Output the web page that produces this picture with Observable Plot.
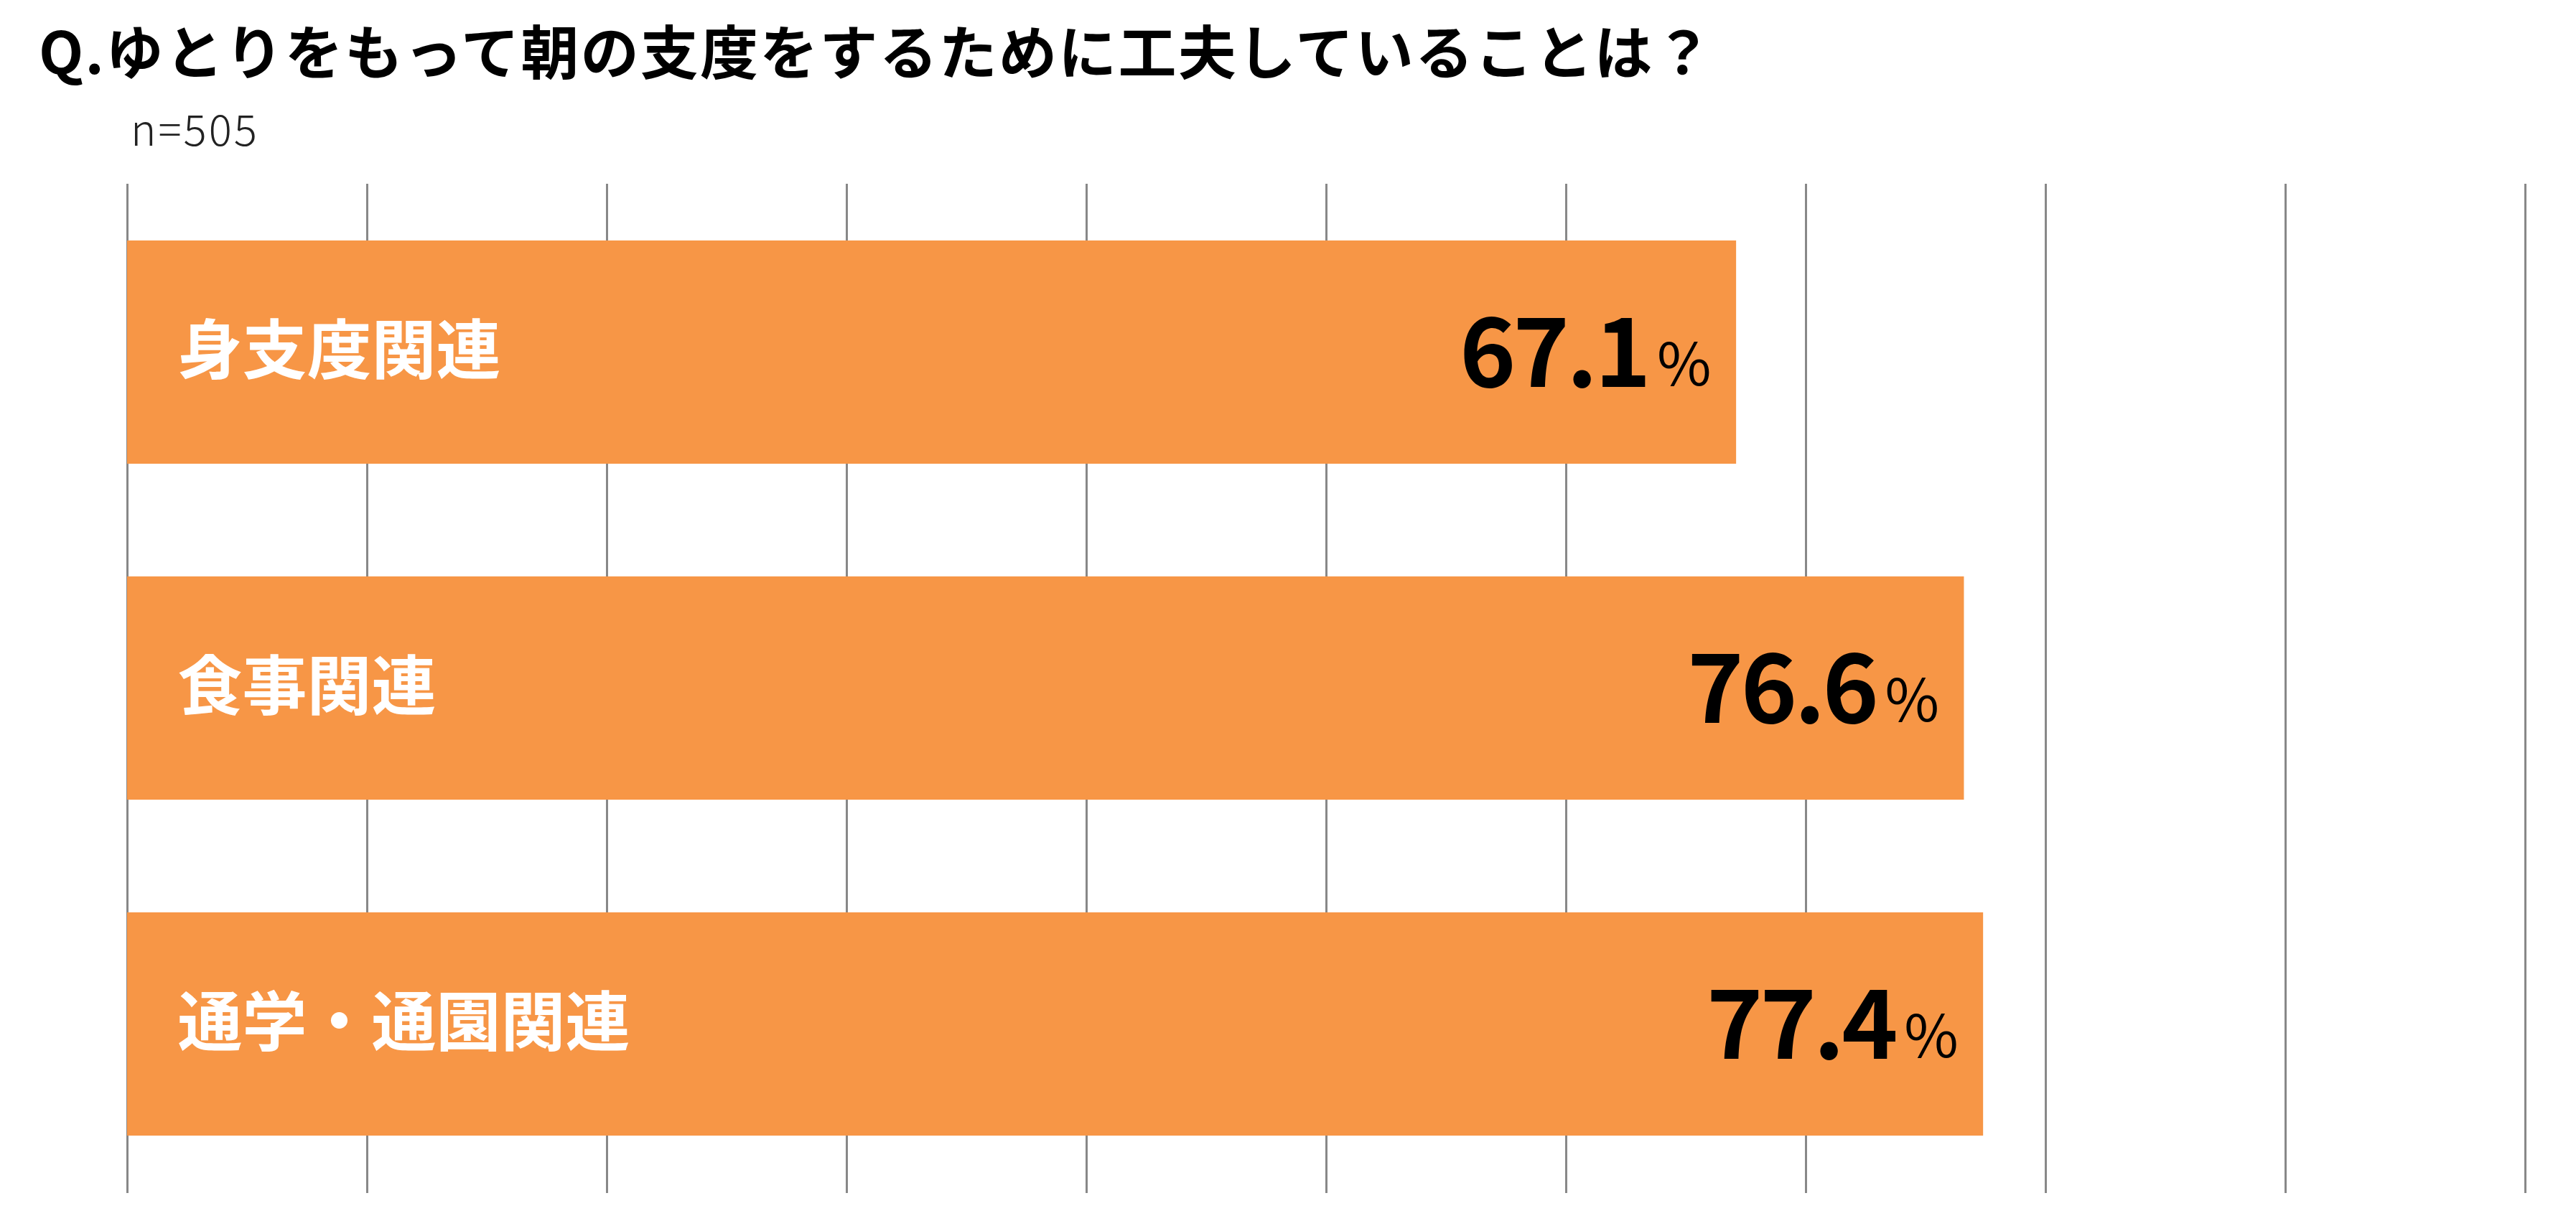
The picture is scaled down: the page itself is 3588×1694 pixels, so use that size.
<!DOCTYPE html>
<html>
<head>
<meta charset="utf-8">
<script src="https://cdn.jsdelivr.net/npm/d3@7"></script>
<script src="https://cdn.jsdelivr.net/npm/@observablehq/plot@0.6"></script>
<style>
  html, body { margin: 0; padding: 0; background: white; }
  #wrap { position: relative; width: 3588px; height: 1694px; overflow: hidden; font-family: "Noto Sans CJK JP", sans-serif; }
  #header { position: relative; height: 230px; }
  #title { position: absolute; left: 54px; top: 28px; height: 80px; line-height: 80px; font-size: 81px; font-weight: 700; color: #000; letter-spacing: 2.2px; white-space: nowrap; }
  #note { position: absolute; left: 182px; top: 147px; height: 60px; line-height: 60px; font-size: 60px; font-weight: 300; color: #222; letter-spacing: 3px; white-space: nowrap; }
  svg { display: block; }
</style>
</head>
<body>
<div id="wrap">
  <div id="header">
    <div id="title"></div>
    <div id="note"></div>
  </div>
  <div id="chart"></div>
</div>
<script>
const titleText = "Q.ゆとりをもって朝の支度をするために工夫していることは？";
const noteText = "n=505";
const categories = ["身支度関連", "食事関連", "通学・通園関連"];
const values = [67.1, 76.6, 77.4];
const gridTicks = [0, 10, 20, 30, 40, 50, 60, 70, 80, 90, 100];

document.getElementById("title").textContent = titleText;
document.getElementById("note").textContent = noteText;

const data = categories.map((c, i) => ({category: c, value: values[i]}));

const chart = Plot.plot({
  width: 3588,
  height: 1464,
  marginTop: 26,
  marginBottom: 32,
  marginLeft: 177,
  marginRight: 71,
  style: {fontFamily: "Noto Sans CJK JP", background: "white", overflow: "visible"},
  x: {domain: [0, 100], axis: null},
  y: {domain: categories, axis: null, paddingInner: 0.335, paddingOuter: 0.1675},
  marks: [
    Plot.ruleX(gridTicks, {stroke: "#888888", strokeWidth: 3}),
    Plot.barX(data, {x: "value", y: "category", fill: "#F79646"}),
    Plot.text(data, {x: 0, y: "category", text: "category", textAnchor: "start", dx: 70, fill: "white", fontSize: 90, fontWeight: "bold"}),
    Plot.text(data, {x: "value", y: "category", text: d => d.value.toFixed(1), textAnchor: "end", dx: -123, dy: 5, fill: "black", fontSize: 133, fontWeight: "bold"}),
    Plot.text(data, {x: "value", y: "category", text: d => "%", textAnchor: "end", dx: -35, dy: 20, fill: "black", fontSize: 82, fontWeight: "normal"})
  ]
});
// tighten the large value figures slightly, like the reference's narrow digits
d3.select(chart).selectAll("g[font-size='133']").attr("letter-spacing", "-4px");
document.getElementById("chart").appendChild(chart);
</script>
</body>
</html>
